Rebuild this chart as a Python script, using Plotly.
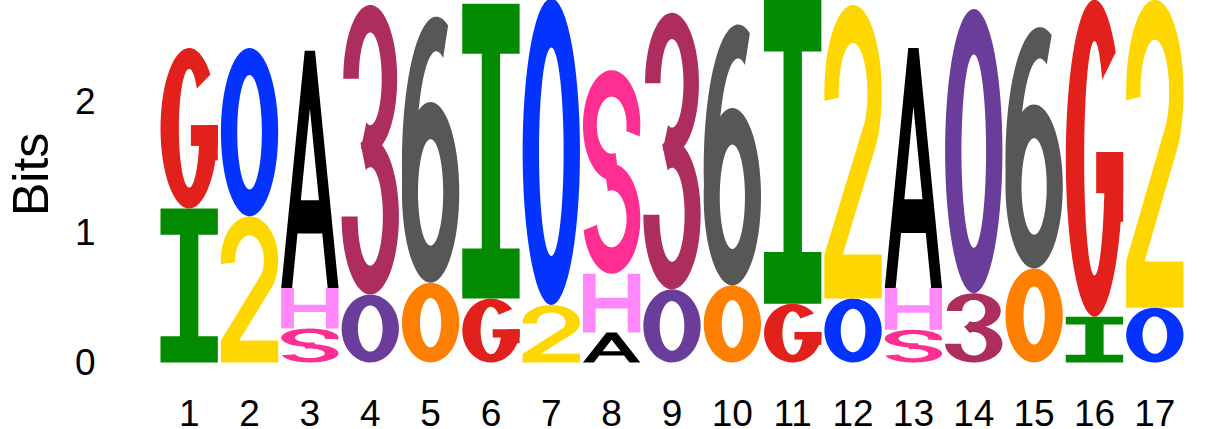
import numpy as np
import plotly.graph_objects as go

# sequence logo: letters per position (bottom -> top) and their heights in bits
positions = list(range(1, 18))
stack_letters = [
    ["I", "G"], ["2", "O"], ["S", "H", "A"], ["o", "3"], ["0", "6"],
    ["G", "I"], ["2", "O"], ["A", "H", "S"], ["o", "3"], ["0", "6"],
    ["G", "I"], ["O", "2"], ["S", "H", "A"], ["3", "o"], ["0", "6"],
    ["I", "G"], ["O", "2"],
]
stack_heights = [
    [1.18, 1.23], [1.12, 1.29], [0.26, 0.31, 1.82], [0.52, 2.22], [0.61, 2.04],
    [0.49, 2.26], [0.44, 2.35], [0.23, 0.45, 1.56], [0.56, 2.12], [0.59, 2.00],
    [0.45, 2.33], [0.49, 2.25], [0.25, 0.32, 1.84], [0.53, 2.18], [0.72, 1.85],
    [0.35, 2.43], [0.42, 2.36],
]
letter_colors = {
    "G": "#E2211C", "I": "#028A00", "O": "#0433FF", "2": "#FFD700",
    "A": "#000000", "H": "#FF89FA", "S": "#FF2E93", "3": "#AD2E5E",
    "6": "#575757", "o": "#6A3D9A", "0": "#FF8000",
}
y_ticks = [0, 1, 2]


# ---- glyph outlines in a unit box (each part = list of closed subpaths) ----
def arc(cx, cy, rx, ry, t0, t1, n=60):
    t = np.radians(np.linspace(t0, t1, n))
    return list(zip(cx + rx * np.cos(t), cy + ry * np.sin(t)))


def band(cx, cy, ro, ri, t0, t1):
    return arc(cx, cy, ro[0], ro[1], t0, t1) + arc(cx, cy, ri[0], ri[1], t1, t0)


def ring(cx, cy, ro, ri):
    return [arc(cx, cy, ro[0], ro[1], 0, 360), arc(cx, cy, ri[0], ri[1], 360, 0)]


two = (arc(0.5, 0.7, 0.5, 0.3, 185, -35)
       + [(0.32, 0.15), (1, 0.15), (1, 0), (0, 0), (0, 0.15)]
       + arc(0.5, 0.7, 0.25, 0.17, -35, 185))

GLYPHS = {
    "O": [ring(0.5, 0.5, (0.5, 0.5), (0.215, 0.34))],
    "o": [ring(0.5, 0.5, (0.5, 0.5), (0.215, 0.34))],
    "0": [ring(0.5, 0.5, (0.5, 0.5), (0.185, 0.31))],
    "I": [[[(0, 0), (1, 0), (1, .17), (.66, .17), (.66, .83), (1, .83),
            (1, 1), (0, 1), (0, .83), (.34, .83), (.34, .17), (0, .17)]]],
    "H": [[[(0, 0), (.22, 0), (.22, .41), (.78, .41), (.78, 0), (1, 0),
            (1, 1), (.78, 1), (.78, .59), (.22, .59), (.22, 1), (0, 1)]]],
    "A": [[[(0, 0), (.19, 0), (.284, .23), (.716, .23), (.81, 0), (1, 0),
            (.59, 1), (.41, 1)],
           [(.342, .37), (.658, .37), (.5, .756)]]],
    "G": [[band(0.5, 0.5, (0.5, 0.5), (0.18, 0.37), 42, 360)],
          [[(0.53, 0.39), (1, 0.39), (1, 0.52), (0.53, 0.52)]],
          [[(0.8, 0.3), (1, 0.3), (1, 0.52), (0.8, 0.52)]]],
    "2": [[two]],
    "3": [[band(0.5, 0.745, (0.47, 0.255), (0.2, 0.16), 180, -110)],
          [band(0.5, 0.27, (0.5, 0.27), (0.22, 0.17), 110, -180)]],
    "6": [ring(0.5, 0.34, (0.5, 0.34), (0.22, 0.2)),
          [band(0.6, 0.45, (0.6, 0.55), (0.35, 0.42), 70, 200)]],
    "S": [[band(0.5, 0.73, (0.5, 0.27), (0.26, 0.14), -12, 285)],
          [band(0.5, 0.27, (0.5, 0.27), (0.26, 0.14), 105, -168)]],
}


def to_path(part, x0, y0, w, h):
    s = ""
    for sub in part:
        pts = ["%.4f,%.4f" % (x0 + u * w, y0 + v * h) for u, v in sub]
        s += "M" + "L".join(pts) + "Z"
    return s


fig = go.Figure()
fig.add_trace(go.Scatter(x=positions, y=[sum(h) for h in stack_heights],
                         mode="markers", marker=dict(opacity=0),
                         hoverinfo="skip", showlegend=False))

width = 0.95
for pos, chars, hs in zip(positions, stack_letters, stack_heights):
    base = 0
    for ch, h in zip(chars, hs):
        for part in GLYPHS[ch]:
            fig.add_shape(type="path", path=to_path(part, pos - width / 2, base, width, h),
                          xref="x", yref="y", fillcolor=letter_colors[ch],
                          fillrule="evenodd", line=dict(width=0))
        base += h

fig.add_annotation(text="Bits", xref="paper", yref="paper", x=-0.1248, y=0.532,
                   textangle=-90, showarrow=False, xanchor="center", yanchor="middle",
                   font=dict(size=50, color="black", family="Liberation Sans, Arial"))

fig.update_layout(
    width=1227, height=429,
    margin=dict(l=159, r=42, t=0, b=57),
    plot_bgcolor="white", paper_bgcolor="white",
    font=dict(family="Liberation Sans, Arial", color="black"),
    xaxis=dict(range=[0.5, 17.5], tickvals=positions, ticktext=[str(p) for p in positions],
               showgrid=False, zeroline=False, showline=False, automargin=False,
               ticks="outside", ticklen=9, tickcolor="rgba(0,0,0,0)",
               tickfont=dict(size=37, color="black")),
    yaxis=dict(range=[-0.073, 2.778], tickvals=y_ticks, ticktext=[str(t) for t in y_ticks],
               showgrid=False, zeroline=False, showline=False, automargin=False,
               ticks="outside", ticklen=55, tickcolor="rgba(0,0,0,0)",
               tickfont=dict(size=37, color="black")),
    showlegend=False,
)

# drop the default page margin so the figure sits at the window corner
fig.write_html("out.html", config={"displayModeBar": False},
               post_script="document.body.style.margin='0px';")
